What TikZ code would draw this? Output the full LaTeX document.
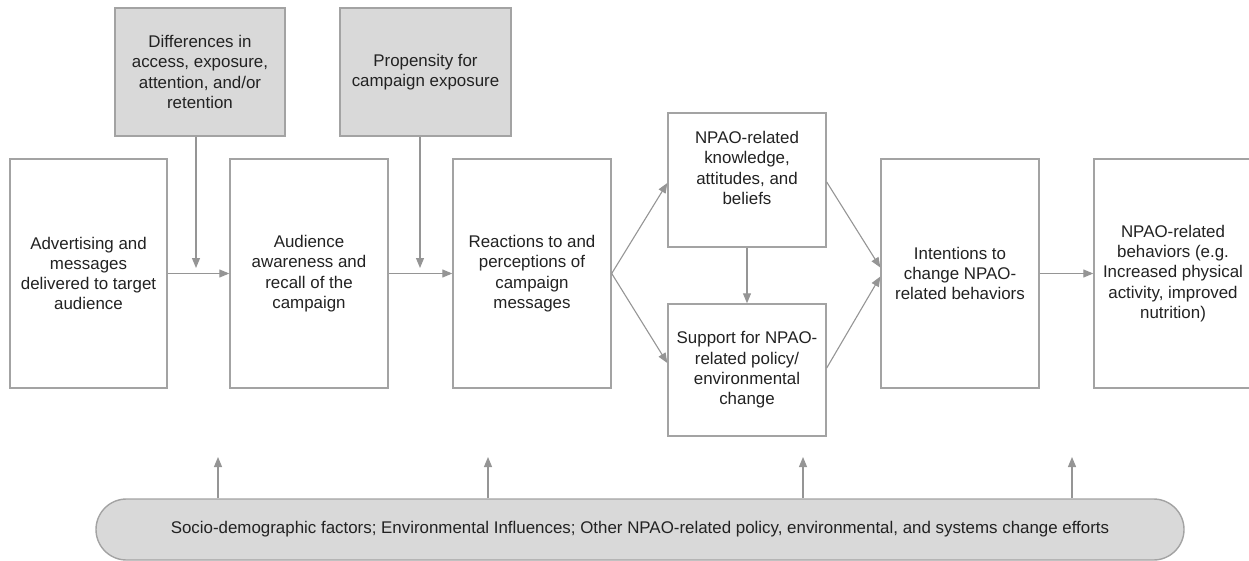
\documentclass[tikz,border=0pt]{standalone}
\usepackage{fontspec}
\newfontfamily\arialf{Liberation Sans}
\usetikzlibrary{arrows.meta,calc,shapes.misc}
\definecolor{edgegray}{HTML}{A3A3A3}
\definecolor{arrgray}{HTML}{959595}
\definecolor{fillgray}{HTML}{D9D9D9}
\definecolor{txt}{HTML}{222222}
\tikzset{
  box/.style={draw=edgegray, line width=1.4pt, fill=white, minimum width=157pt, minimum height=229pt, inner sep=0pt, align=center, text=txt, font=\arialf\fontsize{16.9}{20.3}\selectfont},
  graybox/.style={box, fill=fillgray, minimum width=170pt, minimum height=128pt},
  midbox/.style={box, minimum width=158pt, minimum height=133pt},
  pill/.style={draw=edgegray, line width=1.4pt, fill=fillgray, rounded rectangle, minimum width=1088pt, minimum height=61pt, inner sep=0pt, text=txt, font=\arialf\fontsize{16.9}{20.3}\selectfont},
  arr/.style={draw=arrgray, line width=1.1pt, -{Triangle[length=10pt,width=8pt]}},
  lbl/.style={align=center, text=txt, font=\arialf\fontsize{16.9}{20.3}\selectfont, inner sep=0pt}
}
\begin{document}
\begin{tikzpicture}[x=1pt,y=-1pt]
\useasboundingbox (0,0) rectangle (1249,561);
% grey boxes
\node[graybox] (g1) at (200,72) {Differences in\\access, exposure,\\attention, and/or\\retention};
\node[graybox, minimum width=171pt] (g2) at (425.5,72) {Propensity for\\campaign exposure};
% main boxes
\node[box] (A) at (88.5,273.5) {Advertising and\\messages\\delivered to target\\audience};
\node[box, minimum width=158pt] (B) at (309,273.5) {Audience\\awareness and\\recall of the\\campaign};
\node[box, minimum width=158pt] (C) at (532,273.5) {Reactions to and\\perceptions of\\campaign\\messages};
\node[midbox, minimum height=134pt] (D) at (747,180) {};
\node[lbl] (Dt) at (747,168) {NPAO-related\\knowledge,\\attitudes, and\\beliefs};
\node[midbox, minimum height=132pt] (E) at (747,370) {Support for NPAO-\\related policy/\\environmental\\change};
\node[box, minimum width=158pt] (F) at (960,273.5) {Intentions to\\change NPAO-\\related behaviors};
\node[box, minimum width=158pt] (G) at (1173,273.5) {NPAO-related\\behaviors (e.g.\\Increased physical\\activity, improved\\nutrition)};
% bottom pill
\node[pill] (P) at (640,529.5) {Socio-demographic factors; Environmental Influences; Other NPAO-related policy, environmental, and systems change efforts};
% free ends
\coordinate (g1end) at (196,268);
\coordinate (g2end) at (420,268);
\coordinate (u1) at (218,457);
\coordinate (u2) at (488,457);
\coordinate (u3) at (803,457);
\coordinate (u4) at (1072,457);
% connectors
\draw[arr] (A.east) -- (B.west);
\draw[arr] (B.east) -- (C.west);
\draw[arr] ($(g1.south)+(-4,0)$) -- (g1end);
\draw[arr] ($(g2.south)+(-5.5,0)$) -- (g2end);
\draw[arr] (C.east) -- ($(D.west)+(0,3)$);
\draw[arr] (C.east) -- ($(E.west)+(0,-7)$);
\draw[arr] (D.south) -- (E.north);
\draw[arr] ($(D.east)+(0,2)$) -- ($(F.west)+(0,-6)$);
\draw[arr] ($(E.east)+(0,-2)$) -- ($(F.west)+(0,3)$);
\draw[arr] (F.east) -- (G.west);
\draw[arr] (P.north -| u1) -- (u1);
\draw[arr] (P.north -| u2) -- (u2);
\draw[arr] (P.north -| u3) -- (u3);
\draw[arr] (P.north -| u4) -- (u4);
\end{tikzpicture}
\end{document}
